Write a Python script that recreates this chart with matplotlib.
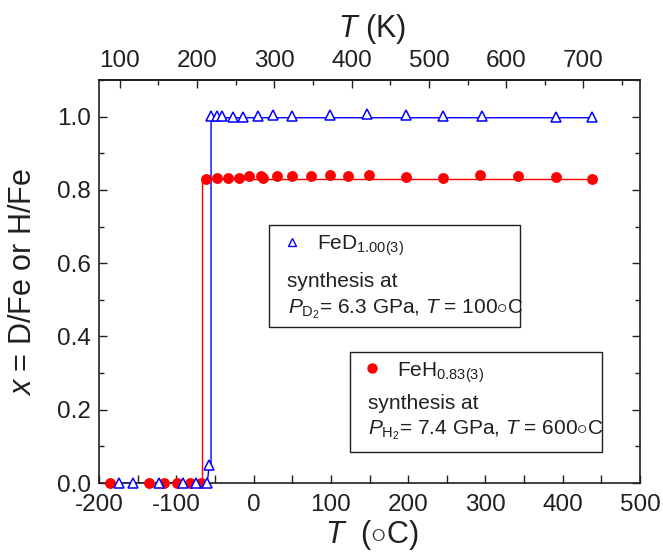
import matplotlib
matplotlib.use("Agg")
import matplotlib.pyplot as plt
from matplotlib.patches import Rectangle
from matplotlib.ticker import MultipleLocator, FixedLocator

plt.rcParams['font.family'] = ['Liberation Sans', 'DejaVu Sans']
plt.rcParams['mathtext.fontset'] = 'custom'
plt.rcParams['mathtext.rm'] = 'Liberation Sans'
plt.rcParams['mathtext.it'] = 'Liberation Sans:italic'
plt.rcParams['mathtext.bf'] = 'Liberation Sans:bold'
plt.rcParams['mathtext.fallback'] = 'cm'
plt.rcParams['axes.unicode_minus'] = False

# ---- data (T in deg C, x = D/Fe or H/Fe) ----
fed_T = [-173.7, -155.6, -122.4, -91.0, -74.9, -60.7, -57.3,
         -55.5, -47.7, -40.5, -26.2, -13.3, 6.1, 24.7, 50.1, 98.9, 147.1,
         197.2, 245.5, 295.1, 390.9, 437.5]
fed_x = [0.0, 0.0, 0.0, 0.0, 0.0, 0.0, 0.048,
         1.001, 1.001, 1.001, 1.0, 1.0, 1.001, 1.004, 1.002, 1.004, 1.007,
         1.005, 1.003, 1.003, 1.000, 0.998]

feh_T = [-185.8, -135.3, -115.9, -99.5, -82.3, -68.4,
         -62.0, -47.0, -32.7, -18.9, -5.9, 9.2, 12.6, 30.7, 50.1, 73.9,
         98.9, 122.6, 149.3, 197.2, 245.5, 292.9, 342.5, 390.9, 437.5]
feh_x = [0.0, 0.0, 0.0, 0.0, 0.0, 0.0,
         0.830, 0.832, 0.832, 0.833, 0.839, 0.839, 0.833, 0.839, 0.837, 0.837,
         0.841, 0.839, 0.841, 0.836, 0.833, 0.842, 0.839, 0.836, 0.830]

# step guide lines
fed_line_T = [-173.7, -60.0, -57.3, -55.0, -55.0, 437.5]
fed_line_x = [0.0, 0.0, 0.05, 0.05, 0.997, 0.997]
feh_line_T = [-185.8, -66.7, -66.7, 437.5]
feh_line_x = [0.0, 0.0, 0.831, 0.831]

xticks = [-200, -100, 0, 100, 200, 300, 400, 500]
yticks = [0.0, 0.2, 0.4, 0.6, 0.8, 1.0]
kticks = [100, 200, 300, 400, 500, 600, 700]

RED = '#ff0000'
BLUE = '#0000ff'
TXT = '#231f20'

fig = plt.figure(figsize=(6.63, 5.54), dpi=100)
ax = fig.add_axes([99/663, 1-483/554, 541/663, 403/554])

ax.plot(feh_line_T, feh_line_x, color=RED, lw=1.0, zorder=2)
ax.plot(fed_line_T, fed_line_x, color=BLUE, lw=1.0, zorder=2)
ax.plot(feh_T, feh_x, 'o', color=RED, ms=6.8, mec=RED, clip_on=False, zorder=3)
ax.plot(fed_T, fed_x, '^', color=BLUE, mfc='white', mec=BLUE, mew=1.1, ms=6.5,
        clip_on=False, zorder=4)

ax.set_xlim(-200, 500)
ax.set_ylim(0, 1.1)
ax.set_xticks(xticks)
ax.set_xticklabels([str(v) for v in xticks])
ax.xaxis.set_minor_locator(MultipleLocator(50))
ax.set_yticks(yticks)
ax.set_yticklabels([f"{v:.1f}" for v in yticks])
ax.yaxis.set_minor_locator(MultipleLocator(0.1))

for s in ax.spines.values():
    s.set_linewidth(1.2)
    s.set_color('#231f20')

ax.tick_params(which='both', direction='in', top=False, right=True,
               labelsize=17.5, colors='#231f20', width=1.0)
ax.tick_params(axis='x', which='major', length=6, pad=8)
ax.tick_params(axis='x', which='minor', length=6)
ax.tick_params(axis='y', which='major', length=6, pad=6)
ax.tick_params(axis='y', which='minor', length=3.5)

sec = ax.secondary_xaxis('top', functions=(lambda c: c + 273.15, lambda k: k - 273.15))
sec.set_xticks(kticks)
sec.set_xticklabels([str(v) for v in kticks])
sec.xaxis.set_minor_locator(FixedLocator([150, 250, 350, 450, 550, 650, 750]))
sec.tick_params(which='both', direction='in', labelsize=17.5, colors='#231f20', width=1.0)
sec.tick_params(which='major', length=6, pad=6)
sec.tick_params(which='minor', length=3.5)
sec.spines['top'].set_linewidth(1.2)
sec.set_xlabel('$T$ (K)', fontsize=22, color=TXT)
sec.xaxis.set_label_coords(0.505, 1.107, transform=ax.transAxes)

ax.set_xlabel(r'$T$  ($\circ$C)', fontsize=22, color=TXT)
ax.xaxis.set_label_coords(0.505, -0.086)
ax.set_ylabel('$x$ = D/Fe or H/Fe', fontsize=22, color=TXT)
ax.yaxis.set_label_coords(-0.112, 0.5)

# legend boxes
box_kw = dict(transform=ax.transAxes, fill=False, edgecolor='#231f20', lw=1.0, zorder=5)
ax.add_patch(Rectangle((0.315, 0.386), 0.778-0.315, 0.640-0.386, **box_kw))
ax.add_patch(Rectangle((0.464, 0.078), 0.929-0.464, 0.326-0.078, **box_kw))

tkw = dict(transform=ax.transAxes, fontsize=15, color=TXT, zorder=6)
ax.plot([0.3567], [0.5988], '^', transform=ax.transAxes, mfc='white', mec=BLUE,
        mew=1.0, ms=6, zorder=6)
ax.text(0.4024, 0.578, 'FeD$_{1.00(3)}$', ha='left', va='baseline', **tkw)
ax.text(0.3481, 0.4996, 'synthesis at', ha='left', va='center', **tkw)
ax.text(0.3499, 0.420, r'$P_{\mathrm{D}_2}$= 6.3 GPa, $T$ = 100$\circ$C', ha='left',
        va='baseline', **tkw)

ax.plot([0.5052], [0.2846], 'o', transform=ax.transAxes, color=RED, ms=6.5, zorder=6)
ax.text(0.5503, 0.264, 'FeH$_{0.83(3)}$', ha='left', va='baseline', **tkw)
ax.text(0.4977, 0.1985, 'synthesis at', ha='left', va='center', **tkw)
ax.text(0.4977, 0.121, r'$P_{\mathrm{H}_2}$= 7.4 GPa, $T$ = 600$\circ$C', ha='left',
        va='baseline', **tkw)

fig.savefig('out.png', dpi=100)
